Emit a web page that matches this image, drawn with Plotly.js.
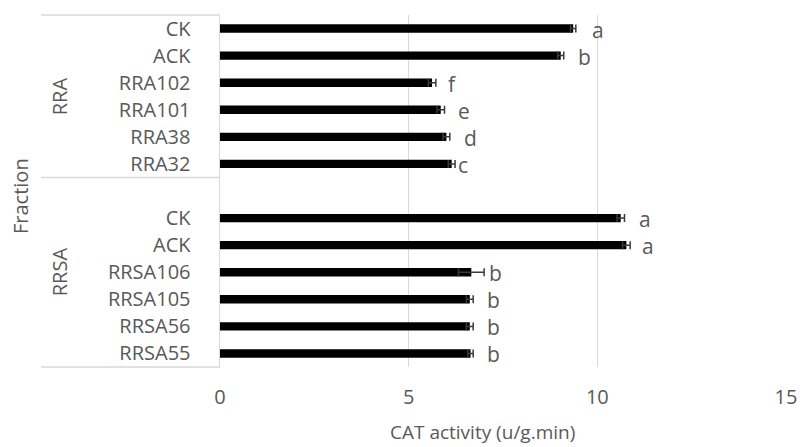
<!DOCTYPE html>
<html>
<head>
<meta charset="utf-8">
<script src="https://cdn.plot.ly/plotly-3.0.1.min.js"></script>
<style>
  html, body { margin: 0; padding: 0; background: #ffffff; }
  #chart { width: 801px; height: 447px; }
</style>
</head>
<body>
<div id="chart"></div>
<script>
// CAT activity by fraction (mean with error bars and significance letters)
const groupNames = ['RRA', 'RRSA'];

const rraLabels  = ['CK', 'ACK', 'RRA102', 'RRA101', 'RRA38', 'RRA32'];
const rraValues  = [9.36, 9.03, 5.62, 5.85, 6.0, 6.14];
const rraErrors  = [0.07, 0.08, 0.1, 0.1, 0.09, 0.09];
const rraLetters = ['a', 'b', 'f', 'e', 'd', 'c'];

const rrsaLabels  = ['CK', 'ACK', 'RRSA106', 'RRSA105', 'RRSA56', 'RRSA55'];
const rrsaValues  = [10.62, 10.77, 6.66, 6.62, 6.62, 6.64];
const rrsaErrors  = [0.1, 0.1, 0.34, 0.09, 0.09, 0.07];
const rrsaLetters = ['a', 'a', 'b', 'b', 'b', 'b'];

const xTicks = [0, 5, 10, 15];

// Row slots from the top: RRA rows 0..5, an empty slot 6, RRSA rows 7..12
const rraPos  = rraLabels.map((_, i) => i);
const rrsaPos = rrsaLabels.map((_, i) => i + 7);

const textGray = '#595959';
const lineGray = '#d9d9d9';
const FONT = 'Open Sans, Calibri, sans-serif';

// horizontal gap (px) between each error-bar end and its letter
const rraGap  = [22, 21, 17, 19, 21, 8];
const rrsaGap = [20, 18, 11, 20, 20, 20];

function barTrace(values, errors, pos) {
  return {
    type: 'bar',
    orientation: 'h',
    x: values,
    y: pos,
    width: 0.31,
    marker: { color: '#000000', line: { width: 0 } },
    error_x: { type: 'data', array: errors, visible: true, color: '#3a3a3a', thickness: 1.5, width: 4 },
    hoverinfo: 'x+y',
    showlegend: false
  };
}

const traces = [
  barTrace(rraValues, rraErrors, rraPos),
  barTrace(rrsaValues, rrsaErrors, rrsaPos)
];

const annotations = [];
function addLetters(values, errors, pos, letters, gaps) {
  letters.forEach((t, i) => {
    annotations.push({
      x: values[i] + errors[i], y: pos[i], xref: 'x', yref: 'y',
      text: t, showarrow: false, xanchor: 'center', yanchor: 'middle',
      xshift: gaps[i], yshift: -1,
      font: { family: FONT, size: 21, color: textGray }
    });
  });
}
addLetters(rraValues, rraErrors, rraPos, rraLetters, rraGap);
addLetters(rrsaValues, rrsaErrors, rrsaPos, rrsaLetters, rrsaGap);

// plot area spans x 220..786 px, y 15..367 px
const plotW = 566, plotH = 352, plotL = 220, plotB = 367;
const px2paperX = px => (px - plotL) / plotW;
const px2paperY = py => (plotB - py) / plotH;

// group labels, rotated, centred on their row blocks
const groupCenters = [2.5, 9];
groupNames.forEach((g, i) => {
  annotations.push({
    x: px2paperX(59), y: groupCenters[i], xref: 'paper', yref: 'y',
    text: g, showarrow: false, textangle: -90,
    xanchor: 'center', yanchor: 'middle',
    font: { family: FONT, size: 20, color: textGray }
  });
});

// axis titles
annotations.push({
  x: px2paperX(20), y: px2paperY(196), xref: 'paper', yref: 'paper',
  text: 'Fraction', showarrow: false, textangle: -90,
  xanchor: 'center', yanchor: 'middle',
  font: { family: FONT, size: 20, color: textGray }
});
annotations.push({
  x: px2paperX(482), y: px2paperY(432), xref: 'paper', yref: 'paper',
  text: 'CAT activity (u/g.min)', showarrow: false,
  xanchor: 'center', yanchor: 'middle',
  font: { family: FONT, size: 19, color: textGray }
});

// category table rules: top, between groups, bottom
const tableLeft = px2paperX(41);
const shapes = [
  { type: 'line', xref: 'paper', yref: 'paper', x0: tableLeft, x1: 0, y0: 1, y1: 1, line: { color: lineGray, width: 1.5 } },
  { type: 'line', xref: 'paper', yref: 'y', x0: tableLeft, x1: 0, y0: 5.5, y1: 5.5, line: { color: lineGray, width: 1.5 } },
  { type: 'line', xref: 'paper', yref: 'paper', x0: tableLeft, x1: 0, y0: 0, y1: 0, line: { color: lineGray, width: 1.5 } }
];

const layout = {
  width: 801, height: 447,
  margin: { l: 220, r: 15, t: 15, b: 80, pad: 0 },
  paper_bgcolor: '#ffffff', plot_bgcolor: '#ffffff',
  barmode: 'overlay',
  font: { family: FONT, size: 20, color: textGray },
  xaxis: {
    range: [0, 15],
    tickvals: xTicks, ticktext: xTicks.map(String),
    showgrid: true, gridcolor: lineGray, gridwidth: 1.5,
    zeroline: false, showline: false, ticks: '',
    ticklabelstandoff: 16,
    tickfont: { family: FONT, size: 20, color: textGray },
    fixedrange: true
  },
  yaxis: {
    range: [12.5, -0.5],
    tickvals: rraPos.concat(rrsaPos),
    ticktext: rraLabels.concat(rrsaLabels),
    showgrid: false, zeroline: false,
    showline: true, linecolor: lineGray, linewidth: 1.5,
    ticks: '', ticklabelstandoff: 24,
    tickfont: { family: FONT, size: 20, color: textGray },
    fixedrange: true
  },
  shapes: shapes,
  annotations: annotations,
  showlegend: false
};

Plotly.newPlot('chart', traces, layout, { displayModeBar: false, staticPlot: true });
</script>
</body>
</html>
